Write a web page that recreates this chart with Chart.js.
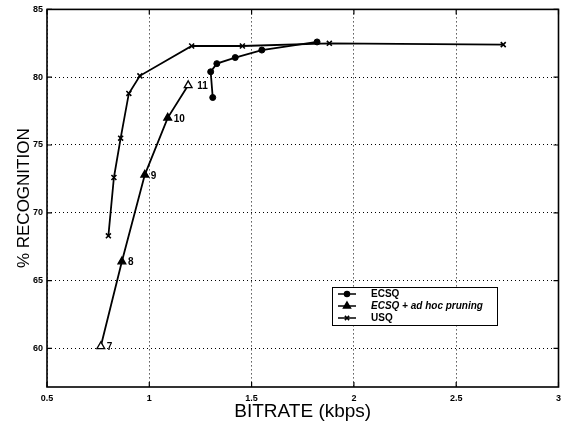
<!DOCTYPE html>
<html>
<head>
<meta charset="utf-8">
<script src="https://cdn.jsdelivr.net/npm/chart.js@4/dist/chart.umd.min.js"></script>
<style>
  html, body { margin: 0; padding: 0; background: #fff; }
  #wrap { width: 567px; height: 425px; }
</style>
</head>
<body>
<div id="wrap"><canvas id="recogChart"></canvas></div>
<script>
// values
const ecsqX = [1.31, 1.30, 1.33, 1.42, 1.55, 1.82];
const ecsqY = [78.5, 80.4, 81.0, 81.45, 82.0, 82.6];

const pruneX = [0.763, 0.866, 0.978, 1.09, 1.19];
const pruneY = [60.15, 66.4, 72.8, 77.0, 79.4];
const pruneLabels = ["7", "8", "9", "10", "11"];

const usqX = [0.80, 0.827, 0.86, 0.90, 0.954, 1.207, 1.455, 1.88, 2.73];
const usqY = [68.3, 72.6, 75.5, 78.8, 80.1, 82.3, 82.3, 82.5, 82.4];

const xTicks = [0.5, 1, 1.5, 2, 2.5, 3];
const xTickLabels = ["0.5", "1", "1.5", "2", "2.5", "3"];
const yTicks = [60, 65, 70, 75, 80, 85];
const yTickLabels = ["60", "65", "70", "75", "80", "85"];

const toPoints = (xs, ys) => xs.map((x, i) => ({ x: x, y: ys[i] }));
const FONT = "'Liberation Sans', Arial, sans-serif";

// box, inward ticks, point labels and the legend box
const decorPlugin = {
  id: "decor",
  afterDraw(chart) {
    const ctx = chart.ctx;
    const a = chart.chartArea;
    const xs = chart.scales.x, ys = chart.scales.y;
    ctx.save();
    ctx.strokeStyle = "#000";
    ctx.lineWidth = 1.6;
    ctx.setLineDash([]);
    ctx.strokeRect(a.left, a.top, a.right - a.left, a.bottom - a.top);

    ctx.lineWidth = 1.2;
    ctx.beginPath();
    xTicks.forEach(v => {
      const px = xs.getPixelForValue(v);
      ctx.moveTo(px, a.bottom); ctx.lineTo(px, a.bottom - 5);
      ctx.moveTo(px, a.top); ctx.lineTo(px, a.top + 5);
    });
    yTicks.forEach(v => {
      const py = ys.getPixelForValue(v);
      ctx.moveTo(a.left, py); ctx.lineTo(a.left + 5, py);
      ctx.moveTo(a.right, py); ctx.lineTo(a.right - 5, py);
    });
    ctx.stroke();

    // numbers beside the pruning points
    const meta = chart.getDatasetMeta(1);
    ctx.fillStyle = "#000";
    ctx.font = "bold 10px " + FONT;
    ctx.textBaseline = "middle";
    ctx.textAlign = "left";
    meta.data.forEach((pt, i) => {
      ctx.fillText(pruneLabels[i], pt.x + (i === 4 ? 9 : 6), pt.y + 1);
    });

    // legend
    const bx = 332, by = 287, bw = 165, bh = 38;
    ctx.fillStyle = "#fff";
    ctx.fillRect(bx, by, bw, bh);
    ctx.strokeStyle = "#000";
    ctx.lineWidth = 1;
    ctx.strokeRect(bx + 0.5, by + 0.5, bw, bh);
    chart.data.datasets.forEach((ds, i) => {
      const ly = by + 7 + i * 12;
      ctx.lineWidth = 1.5;
      ctx.beginPath();
      ctx.moveTo(bx + 6, ly); ctx.lineTo(bx + 24, ly);
      ctx.stroke();
      ctx.fillStyle = "#000";
      Chart.helpers.drawPoint(ctx, {
        pointStyle: ds.pointStyle,
        radius: ds.pointRadius - 0.5,
        borderWidth: ds.pointBorderWidth || 1,
        rotation: 0
      }, bx + 15, ly);
      ctx.font = (i === 1 ? "italic bold 10px " : "bold 10px ") + FONT;
      ctx.fillText(ds.label, bx + 39, ly + 0.5);
    });
    ctx.restore();
  }
};

const gridOpts = {
  color: "#000",
  lineWidth: 1,
  drawTicks: false
};

new Chart(document.getElementById("recogChart"), {
  type: "scatter",
  data: {
    datasets: [
      {
        label: "ECSQ",
        data: toPoints(ecsqX, ecsqY),
        showLine: true,
        borderColor: "#000",
        backgroundColor: "#000",
        borderWidth: 1.8,
        pointStyle: "circle",
        pointRadius: 3,
        pointBorderWidth: 1,
        tension: 0
      },
      {
        label: "ECSQ + ad hoc pruning",
        data: toPoints(pruneX, pruneY),
        showLine: true,
        borderColor: "#000",
        backgroundColor: ["#fff", "#000", "#000", "#000", "#fff"],
        borderWidth: 1.8,
        pointStyle: "triangle",
        pointRadius: 4.5,
        pointBorderWidth: 1.3,
        tension: 0
      },
      {
        label: "USQ",
        data: toPoints(usqX, usqY),
        showLine: true,
        borderColor: "#000",
        backgroundColor: "#000",
        borderWidth: 1.8,
        pointStyle: "crossRot",
        pointRadius: 3.5,
        pointBorderWidth: 1.6,
        tension: 0
      }
    ]
  },
  options: {
    responsive: true,
    maintainAspectRatio: false,
    animation: false,
    layout: { padding: { top: 9, right: 5, bottom: 0, left: 0 } },
    scales: {
      x: {
        type: "linear",
        min: 0.5,
        max: 3,
        afterBuildTicks: s => { s.ticks = xTicks.map(v => ({ value: v })); },
        afterFit: s => { s.height = 38; },
        ticks: {
          padding: 6,
          color: "#000",
          font: { family: FONT, size: 9, weight: "bold" },
          callback: v => xTickLabels[xTicks.indexOf(v)]
        },
        grid: gridOpts,
        border: { display: false, dash: [1, 3] },
        title: {
          display: true,
          text: "BITRATE (kbps)",
          color: "#000",
          font: { family: FONT, size: 19 },
          padding: { top: 0, bottom: 2 }
        }
      },
      y: {
        type: "linear",
        min: 57.15,
        max: 85,
        afterBuildTicks: s => { s.ticks = yTicks.map(v => ({ value: v })); },
        afterFit: s => { s.width = 47; },
        ticks: {
          padding: 4,
          color: "#000",
          font: { family: FONT, size: 9, weight: "bold" },
          callback: v => yTickLabels[yTicks.indexOf(v)]
        },
        grid: gridOpts,
        border: { display: false, dash: [1, 3] },
        title: {
          display: true,
          text: "% RECOGNITION",
          color: "#000",
          font: { family: FONT, size: 17 },
          padding: { top: 14, bottom: 0 }
        }
      }
    },
    plugins: {
      legend: { display: false },
      tooltip: { enabled: false }
    }
  },
  plugins: [decorPlugin]
});
</script>
</body>
</html>
